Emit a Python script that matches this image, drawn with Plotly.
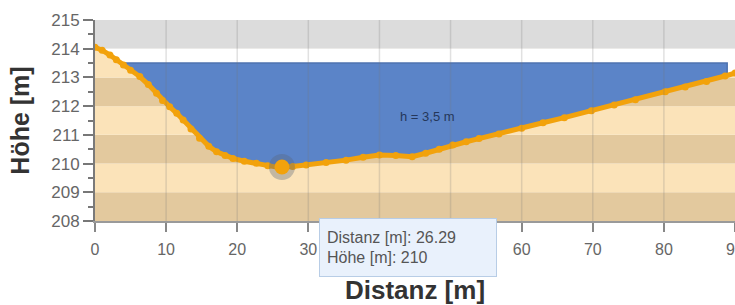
import numpy as np
import plotly.graph_objects as go

# ---- data ----
distance = [0, 1, 2.1, 3, 4, 5, 6.3, 7.5, 8.65, 9.5, 10.5, 11.5, 12.4, 13.5, 14.7, 16,
            17.1, 18.3, 19.4, 21, 22.7, 24.3, 25.9, 27.8, 29.7, 32.5, 35.3, 37.7, 40,
            42.3, 44.6, 46.5, 48.4, 50.3, 52.2, 54, 56.8, 60, 63, 66, 69.8, 73, 76,
            80.2, 83, 86, 88.6, 90]
elevation = [214.05, 213.95, 213.78, 213.62, 213.43, 213.25, 213.03, 212.75, 212.45,
             212.2, 211.98, 211.75, 211.52, 211.2, 210.88, 210.6, 210.41, 210.28,
             210.18, 210.08, 210.01, 209.92, 209.86, 209.9, 209.95, 210.04, 210.12,
             210.22, 210.3, 210.28, 210.24, 210.36, 210.5, 210.65, 210.76, 210.87,
             211.03, 211.23, 211.42, 211.6, 211.84, 212.04, 212.22, 212.5, 212.67,
             212.86, 213.05, 213.15]
water_level = 213.5
water_start = 3.7
water_end = 88.9
hover_point = (26.29, 209.88)
hover_label = ["Distanz [m]: 26.29", "Höhe [m]: 210"]
depth_label = "h = 3,5 m"
depth_pos = (46.7, 211.63)
x_ticks = [0, 10, 20, 30, 40, 50, 60, 70, 80, 90]
x_tick_labels = ["0", "10", "20", "30", "", "", "60", "70", "80", "90"]  # 40/50 hidden by tooltip
y_ticks = [208, 209, 210, 211, 212, 213, 214, 215]
gray_band = (214, 215)
ground_top = 214
x_title = "Distanz [m]"
y_title = "Höhe [m]"

LIGHT_TAN = "#fbe3b9"
DARK_TAN = "#e3c99e"
ORANGE = "#f2a20c"
BLUE = "#5b84c8"
FONT = "Liberation Sans, Arial, sans-serif"

d = np.array(distance)
e = np.array(elevation)

fig = go.Figure()

# white mask above the terrain up to the top of the ground bands
fig.add_trace(go.Scatter(
    x=list(d) + [d[-1], d[0]],
    y=list(e) + [ground_top, ground_top],
    fill="toself", fillcolor="white", mode="none", hoverinfo="skip", showlegend=False))

# water body
inside = (d > water_start) & (d < water_end)
wx = [water_start, water_end, water_end] + list(d[inside][::-1]) + [water_start]
wy = [water_level, water_level, float(np.interp(water_end, d, e))] + list(e[inside][::-1]) + \
     [float(np.interp(water_start, d, e))]
fig.add_trace(go.Scatter(
    x=wx, y=wy, fill="toself", fillcolor=BLUE,
    line=dict(color="#4f73b0", width=1.5), mode="lines", hoverinfo="skip", showlegend=False))

# terrain profile
fig.add_trace(go.Scatter(
    x=distance, y=elevation, mode="lines+markers",
    line=dict(color=ORANGE, width=5),
    marker=dict(color=ORANGE, size=7),
    showlegend=False))

# hovered point
fig.add_trace(go.Scatter(
    x=[hover_point[0]], y=[hover_point[1]], mode="markers",
    marker=dict(color="rgba(90,100,120,0.35)", size=26), hoverinfo="skip", showlegend=False))
fig.add_trace(go.Scatter(
    x=[hover_point[0]], y=[hover_point[1]], mode="markers",
    marker=dict(color=ORANGE, size=15), hoverinfo="skip", showlegend=False))

shapes = []
# ground bands
for lo in y_ticks[:-2]:
    col = DARK_TAN if (lo - y_ticks[0]) % 2 == 0 else LIGHT_TAN
    shapes.append(dict(type="rect", xref="paper", x0=0, x1=1, yref="y", y0=lo, y1=lo + 1,
                       fillcolor=col, line=dict(width=0), layer="below"))
shapes.append(dict(type="rect", xref="paper", x0=0, x1=1, yref="y", y0=gray_band[0],
                   y1=gray_band[1], fillcolor="#dcdcdc", line=dict(width=0), layer="below"))
# vertical grid lines on top
for xv in x_ticks[1:-1]:
    shapes.append(dict(type="line", xref="x", x0=xv, x1=xv, yref="paper", y0=0, y1=1,
                       line=dict(color="rgba(120,120,120,0.22)", width=1.5), layer="above"))

annotations = [
    dict(x=depth_pos[0], y=depth_pos[1], xref="x", yref="y", text=depth_label,
         showarrow=False, font=dict(family=FONT, size=13, color="#25375a")),
    dict(x=0.35, y=0.015, xref="paper", yref="paper", xanchor="left", yanchor="top",
         text="<br>".join(hover_label), align="left", showarrow=False,
         bgcolor="#e9f1fc", bordercolor="#b8cde6", borderwidth=1, borderpad=7,
         width=162, height=43, valign="middle",
         font=dict(family=FONT, size=16, color="#555555")),
]

fig.update_layout(
    width=735, height=305,
    margin=dict(l=95, r=0, t=20, b=84),
    plot_bgcolor="white", paper_bgcolor="white",
    shapes=shapes, annotations=annotations,
    font=dict(family=FONT),
    showlegend=False,
)
fig.update_xaxes(
    range=[0, 90], tickvals=x_ticks, ticktext=x_tick_labels, showgrid=False, zeroline=False,
    automargin=False, ticklabeloverflow="allow", ticklabelstandoff=4,
    showline=True, linecolor="#9a9a9a", linewidth=2,
    ticks="outside", ticklen=9, tickwidth=2, tickcolor="#888888",
    tickfont=dict(family=FONT, size=16, color="#666666"),
    title=dict(text="<b>" + x_title + "</b>", font=dict(family=FONT, size=26, color="#333333"), standoff=24),
)
fig.update_yaxes(
    range=[208, 215], tickvals=y_ticks, showgrid=False, zeroline=False,
    automargin=False,
    showline=True, linecolor="#7a7a7a", linewidth=2,
    ticks="outside", ticklen=10, tickwidth=1.5, tickcolor="#777777",
    minor=dict(dtick=0.5, tick0=208, ticks="outside", ticklen=5, tickcolor="#777777", tickwidth=1.5, showgrid=False),
    tickfont=dict(family=FONT, size=17, color="#666666"),
    title=dict(text="<b>" + y_title + "</b>", font=dict(family=FONT, size=25, color="#333333"), standoff=14),
)

fig.write_html("out.html", config={"displayModeBar": False},
               post_script="document.body.style.margin='0';")
